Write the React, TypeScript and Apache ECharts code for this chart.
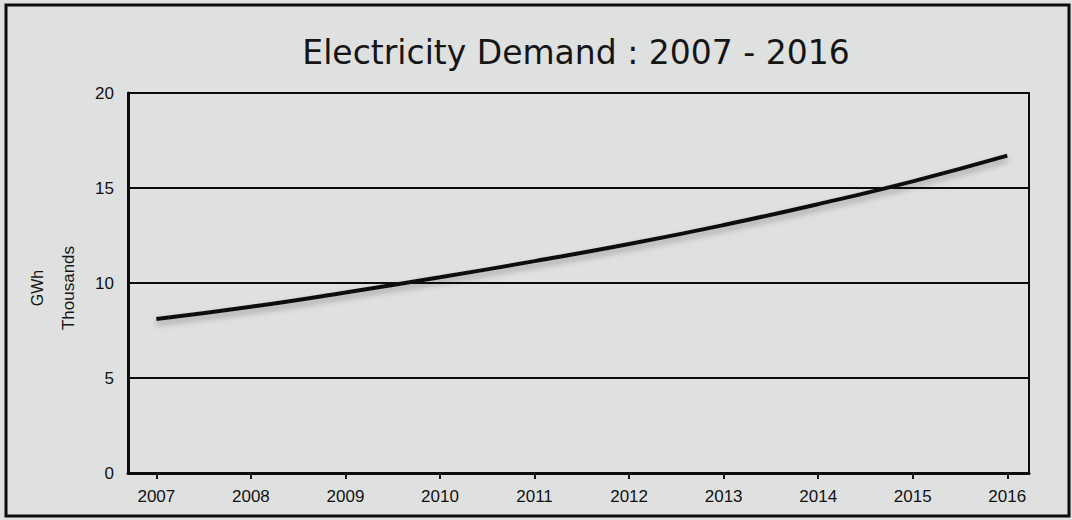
import React, { useEffect, useRef } from "react";
import * as echarts from "echarts";

const years = [2007, 2008, 2009, 2010, 2011, 2012, 2013, 2014, 2015, 2016];
const demandThousandsGWh = [8.1, 8.75, 9.5, 10.3, 11.15, 12.05, 13.05, 14.15, 15.35, 16.7];
const yTicks = [0, 5, 10, 15, 20];
const titleText = "Electricity Demand : 2007 - 2016";
const yNameTop = "GWh";
const yNameBottom = "Thousands";

export default function App() {
  const ref = useRef<HTMLDivElement>(null);
  useEffect(() => {
    if (!ref.current) return;
    const chart = echarts.init(ref.current, undefined, { renderer: "svg" });
    const seriesData = years.map((y, i) => [y, demandThousandsGWh[i]]);
    chart.setOption({
      animation: false,
      backgroundColor: "#dfe1e0",
      title: {
        text: titleText,
        left: 571,
        top: 31,
        textAlign: "center",
        textStyle: {
          fontFamily: "DejaVu Sans",
          fontSize: 33,
          fontWeight: "normal",
          color: "#151515",
        },
      },
      grid: {
        left: 128,
        right: 43,
        top: 93,
        bottom: 47,
        show: true,
        borderColor: "#0c0c0c",
        borderWidth: 2,
        backgroundColor: "transparent",
      },
      xAxis: {
        type: "value",
        min: 2006.7,
        max: 2016.23,
        axisLine: { show: true, onZero: false, lineStyle: { color: "#0c0c0c", width: 3 } },
        axisTick: {
          show: true,
          customValues: years,
          length: 6,
          inside: false,
          lineStyle: { color: "#1a1a1a", width: 2 },
        },
        axisLabel: {
          customValues: years,
          margin: 15,
          fontFamily: "Liberation Sans",
          fontSize: 17,
          color: "#111111",
          formatter: (v: number) => String(Math.round(v)),
        },
        splitLine: { show: false },
      },
      yAxis: {
        type: "value",
        min: 0,
        max: 20,
        interval: 5,
        axisLine: { show: true, lineStyle: { color: "#0c0c0c", width: 3 } },
        axisTick: { show: false },
        axisLabel: {
          margin: 14,
          fontFamily: "Liberation Sans",
          fontSize: 17,
          color: "#111111",
          formatter: (v: number) => (yTicks.includes(v) ? String(v) : ""),
        },
        splitLine: { show: true, lineStyle: { color: "#0c0c0c", width: 2 } },
      },
      graphic: [
        {
          type: "rect",
          shape: { x: 6, y: 5, width: 1063, height: 511 },
          style: { fill: "transparent", stroke: "#0c0c0c", lineWidth: 3 },
          silent: true,
        },
        {
          type: "text",
          x: 37,
          y: 288,
          rotation: Math.PI / 2,
          style: {
            text: yNameTop,
            fontFamily: "Liberation Sans",
            fontSize: 16,
            fill: "#151515",
            align: "center",
            verticalAlign: "middle",
          },
        },
        {
          type: "text",
          x: 68,
          y: 288,
          rotation: Math.PI / 2,
          style: {
            text: yNameBottom,
            fontFamily: "Liberation Sans",
            fontSize: 17,
            fill: "#151515",
            align: "center",
            verticalAlign: "middle",
          },
        },
      ],
      series: [
        {
          type: "line",
          data: seriesData,
          smooth: true,
          showSymbol: false,
          lineStyle: {
            color: "#111111",
            width: 4,
            shadowColor: "rgba(0,0,0,0.3)",
            shadowBlur: 6,
            shadowOffsetY: 4,
          },
        },
      ],
    });
    return () => chart.dispose();
  }, []);
  return (
    <div
      ref={ref}
      style={{ position: "fixed", left: 0, top: 0, width: 1072, height: 520 }}
    />
  );
}
